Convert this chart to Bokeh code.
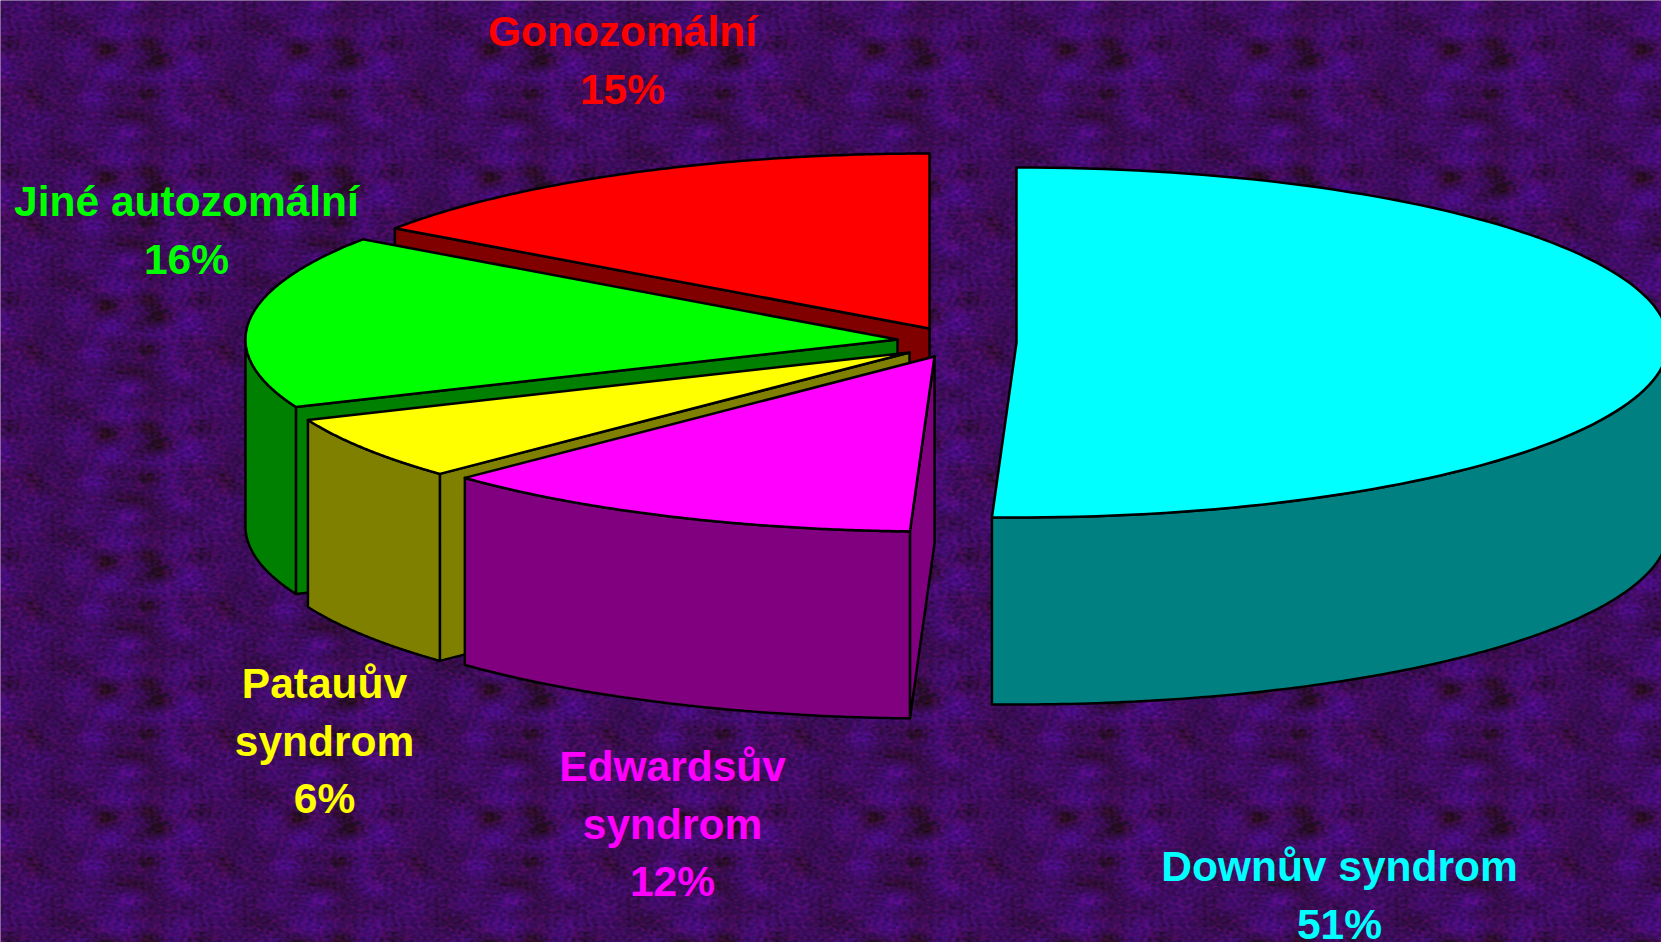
import numpy as np
from bokeh.plotting import figure
from bokeh.models import Range1d
from bokeh.embed import file_html
from bokeh.resources import INLINE
from bokeh.core.properties import value

# ---- data (share of each category; clockwise from 12 o'clock)
categories = ["Downův syndrom", "Edwardsův syndrom", "Patauův syndrom", "Jiné autozomální", "Gonozomální"]
shares = [50.6, 12.2, 5.9, 16.0, 15.3]
label_lines = [["Downův syndrom"], ["Edwardsův", "syndrom"], ["Patauův", "syndrom"], ["Jiné autozomální"], ["Gonozomální"]]
top_colors = ["#00ffff", "#ff00ff", "#ffff00", "#00ff00", "#ff0000"]
side_colors = ["#008080", "#800080", "#808000", "#008000", "#800000"]

# ---- layout (screen pixels of the 1661x942 window)
W, H = 1661, 942
RX, RY, DEPTH = 652, 175, 187
apex = [(1016, 342), (934, 356), (909, 352), (897, 339), (929, 328)]
label_pos = [(1339, 866), (672, 766), (324, 683), (186, 201), (622, 31)]
LINE_H = 57.5
FONT = "Liberation Sans"
BG = "#3c0e60"


def Y(py):
    return H - np.asarray(py, dtype=float)


p = figure(width=W, height=H, x_range=Range1d(0, W), y_range=Range1d(0, H),
           output_backend="svg", toolbar_location=None, min_border=0,
           background_fill_color=BG, border_fill_color=BG, outline_line_color=None)
p.axis.visible = False
p.grid.visible = False

# ---- mottled background: periodic tile, a sum of plane waves with fixed phases
th, tw = 128, 192
vv, uu = np.mgrid[0:th, 0:tw]
u, v = 2 * np.pi * uu / tw, 2 * np.pi * vv / th


def band(lo, hi):
    out = np.zeros_like(u)
    for fx in range(-hi, hi + 1):
        for fy in range(0, hi + 1):
            f = np.hypot(fx, fy)
            if lo <= f <= hi:
                phase = 43758.5453 * np.sin(fx * 12.9898 + fy * 78.233 + lo * 3.71)
                out += np.sin(fx * u + fy * v + phase) / f
    return out / out.std()


blot = band(2, 6)
mid = band(7, 14)
fine = band(18, 40)
vein = np.exp(-(mid * 2.5) ** 2)
spot = np.clip(-blot - 1.4, 0, 2)
r = 58 + 5 * blot + 20 * vein + 6 * fine - 8 * spot
g = 13 + 1.5 * fine
b = 92 + 14 * blot + 10 * vein + 10 * fine - 18 * spot
tile = np.zeros((th, tw), dtype=np.uint32)
view = tile.view(np.uint8).reshape((th, tw, 4))
view[..., 0] = np.clip(r, 0, 255)
view[..., 1] = np.clip(g, 0, 255)
view[..., 2] = np.clip(b, 0, 255)
view[..., 3] = 255
img = np.tile(tile, (H // th + 1, W // tw + 1))[:H, :W]
p.image_rgba(image=[img], x=0, y=0, dw=W, dh=H)

# ---- slice angles from the shares
cum = np.cumsum([0] + shares) / sum(shares) * 2 * np.pi
a0, a1 = cum[:-1], cum[1:]


def rim(cx, cy, t0, t1, n=120):
    t = np.linspace(t0, t1, n)
    return cx + RX * np.sin(t), cy - RY * np.cos(t)


def poly(xs, ys, fill):
    p.patch(np.asarray(xs, float), Y(ys), fill_color=fill, line_color="black", line_width=2.5,
            line_join="round")


# back to front: Gonozomální, Jiné, Patauův, Edwardsův, Downův
for i in [4, 3, 2, 1, 0]:
    cx, cy = apex[i]
    t0, t1 = a0[i], a1[i]
    side = side_colors[i]
    if i >= 1:  # flat wall on the slice's counter-clockwise edge
        ex, ey = rim(cx, cy, t0, t0, 1)
        poly([cx, ex[0], ex[0], cx], [cy, ey[0], ey[0] + DEPTH, cy + DEPTH], side)
    lo, hi = max(t0, np.pi / 2), min(t1, 3 * np.pi / 2)
    if hi > lo:  # curved outer wall, front half only
        rx, ry = rim(cx, cy, lo, hi)
        poly(np.r_[rx, rx[::-1]], np.r_[ry, ry[::-1] + DEPTH], side)
    rx, ry = rim(cx, cy, t0, t1)
    poly(np.r_[cx, rx], np.r_[cy, ry], top_colors[i])

# ---- labels
for i, lines in enumerate(label_lines):
    x, y = label_pos[i]
    rows = lines + [f"{round(shares[i])}%"]
    p.text(x=[x] * len(rows), y=Y([y + k * LINE_H for k in range(len(rows))]), text=rows,
           text_color=top_colors[i], text_font=value(FONT), text_font_style="bold",
           text_font_size="42.5px", text_align="center", text_baseline="middle")

open("out.html", "w").write(file_html(p, INLINE))
